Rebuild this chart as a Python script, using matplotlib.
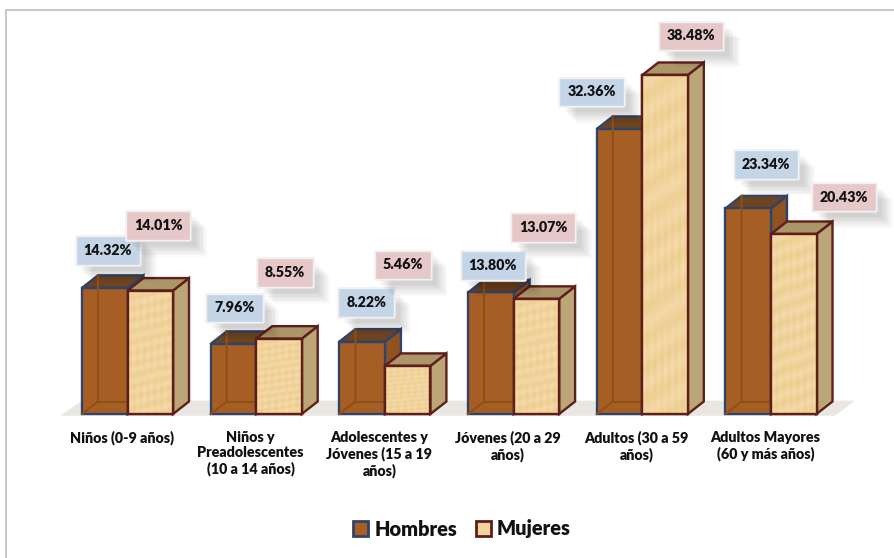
import numpy as np
import matplotlib
matplotlib.use("Agg")
import matplotlib.pyplot as plt
from matplotlib.patches import Polygon, Patch, Rectangle
import matplotlib.patheffects as pe

plt.rcParams['font.family'] = ['Lato', 'DejaVu Sans']

# datos
categorias = ["Niños (0-9 años)", "Niños y\nPreadolescentes\n(10 a 14 años)",
              "Adolescentes y\nJóvenes (15 a 19\naños)", "Jóvenes (20 a 29\naños)",
              "Adultos (30 a 59\naños)", "Adultos Mayores\n(60 y más años)"]
hombres = [14.32, 7.96, 8.22, 13.80, 32.36, 23.34]
mujeres = [14.01, 8.55, 5.46, 13.07, 38.48, 20.43]

# desplazamiento de las etiquetas respecto a la barra (pixeles)
off_h = [(3, 37), (1, 36), (4, 39), (2, 27), (-28, 37), (18, 44)]
off_m = [(8, 65), (6, 66), (-5, 101), (7, 71), (26, 39), (50, 37)]

W, H = 894, 558
PX_X = 128.7          # pixeles por categoria
PX_Y = 8.81           # pixeles por punto porcentual
ancho = 45.5 / PX_X
dx = 16 / PX_X
dy = 12.5 / PX_Y
shift = 5.5 / PX_X
PESO = 'heavy'

fig = plt.figure(figsize=(W / 100, H / 100), dpi=100)
fig.add_artist(Rectangle((6 / W, -0.02), 2, 1.02 - 10 / H, transform=fig.transFigure,
                         fc='white', ec='#bdbdbd', lw=1.2, zorder=-1))

left = 122 - PX_X / 2
ax = fig.add_axes([left / W, (H - 414) / H, 6 * PX_X / W, 404 / H])
ax.patch.set_alpha(0)
for s in ax.spines.values():
    s.set_visible(False)
ax.set_yticks([])
ax.set_xticks(range(len(categorias)))
ax.set_xticklabels(categorias, fontsize=10.3, fontweight=PESO, color='#111111', linespacing=1.2)
ax.tick_params(axis='x', length=0, pad=12)

# piso
ax.add_patch(Polygon([(-0.48, -0.2), (-0.48 + 22 / PX_X, dy + 0.1), (5.54 + 20 / PX_X, dy + 0.1), (5.54, -0.2)],
                     closed=True, fc='#e9e7e1', ec='none', zorder=1, clip_on=False))

# textura suave de las barras claras
yy, xx = np.mgrid[0:1:120j, 0:1:30j]
veta = 0.5 + 0.25 * np.sin(xx * 40) * np.sin(yy * 9) + 0.25 * np.sin(yy * 70 + xx * 6)
c1, c2 = np.array([0.925, 0.80, 0.55]), np.array([0.965, 0.86, 0.68])
textura = c1 + (c2 - c1) * veta[..., None]


def barra(x0, v, front, top, side, borde, interior, z, tex=None):
    x1 = x0 + ancho
    kw = dict(closed=True, ec=borde, lw=1.7, joinstyle='miter', clip_on=False, zorder=z)
    ax.add_patch(Polygon([(x1, 0), (x1 + dx, dy), (x1 + dx, v + dy), (x1, v)], fc=side, **kw))
    ax.add_patch(Polygon([(x0, v), (x0 + dx, v + dy), (x1 + dx, v + dy), (x1, v)], fc=top, **kw))
    ax.add_patch(Polygon([(x0, 0), (x1, 0), (x1, v), (x0, v)], fc=front, **kw))
    if tex is not None:
        ax.imshow(tex, extent=(x0, x1, 0, v), aspect='auto', zorder=z + 0.05, interpolation='bilinear')
        ax.add_patch(Polygon([(x0, 0), (x1, 0), (x1, v), (x0, v)], fc='none', **dict(kw, zorder=z + 0.1)))
    if interior:
        ax.plot([x0, x0 + dx, x0 + dx], [0, dy, v + dy], color=interior, lw=1.5, zorder=z + 0.1, clip_on=False)
        ax.plot([x0 + dx, x1], [dy, dy], color=interior, lw=1.5, zorder=z + 0.1, clip_on=False)


def etiqueta(x, v, txt, off, fc):
    a = ax.annotate(txt, (x, v), xytext=off, textcoords='offset pixels', ha='center', va='center',
                    fontsize=10.3, fontweight=PESO, color='#111111', zorder=20, annotation_clip=False,
                    bbox=dict(boxstyle='square,pad=0.55', fc=fc, ec='#f2f2f2', lw=1))
    efectos = [pe.withSimplePatchShadow(offset=(o, -o), shadow_rgbFace='k', alpha=0.018)
               for o in (4, 5, 6, 7, 8, 9, 10, 11, 12)]
    a.get_bbox_patch().set_path_effects(efectos + [pe.Normal()])


for i in range(len(categorias)):
    x_h = i + shift - ancho
    x_m = i + shift
    barra(x_h, hombres[i], '#a65e24', '#6e4420', '#8f5220', '#2f4468', '#8f5018', 3)
    barra(x_m, mujeres[i], '#f0d59c', '#ac9568', '#bca678', '#5e1f1a', None, 4, tex=textura)
    etiqueta(x_h + ancho / 2, hombres[i], f"{hombres[i]:.2f}%", off_h[i], '#c5d5e8')
    etiqueta(x_m + ancho / 2, mujeres[i], f"{mujeres[i]:.2f}%", off_m[i], '#e6c8c8')

ax.set_xlim(-0.5, 5.5)
ax.set_ylim(0, 404 / PX_Y)

handles = [Patch(fc='#a65e24', ec='#2f4468', lw=2), Patch(fc='#f0d59c', ec='#5e1f1a', lw=2)]
fig.legend(handles, ["Hombres", "Mujeres"], ncol=2, loc='center', bbox_to_anchor=(462 / W, 1 - 529 / H),
           frameon=False, prop=dict(size=14.4, weight=PESO), handlelength=0.75, handleheight=0.75,
           handletextpad=0.3, columnspacing=0.95, labelcolor='#111111')

fig.savefig("out.png", dpi=100)
